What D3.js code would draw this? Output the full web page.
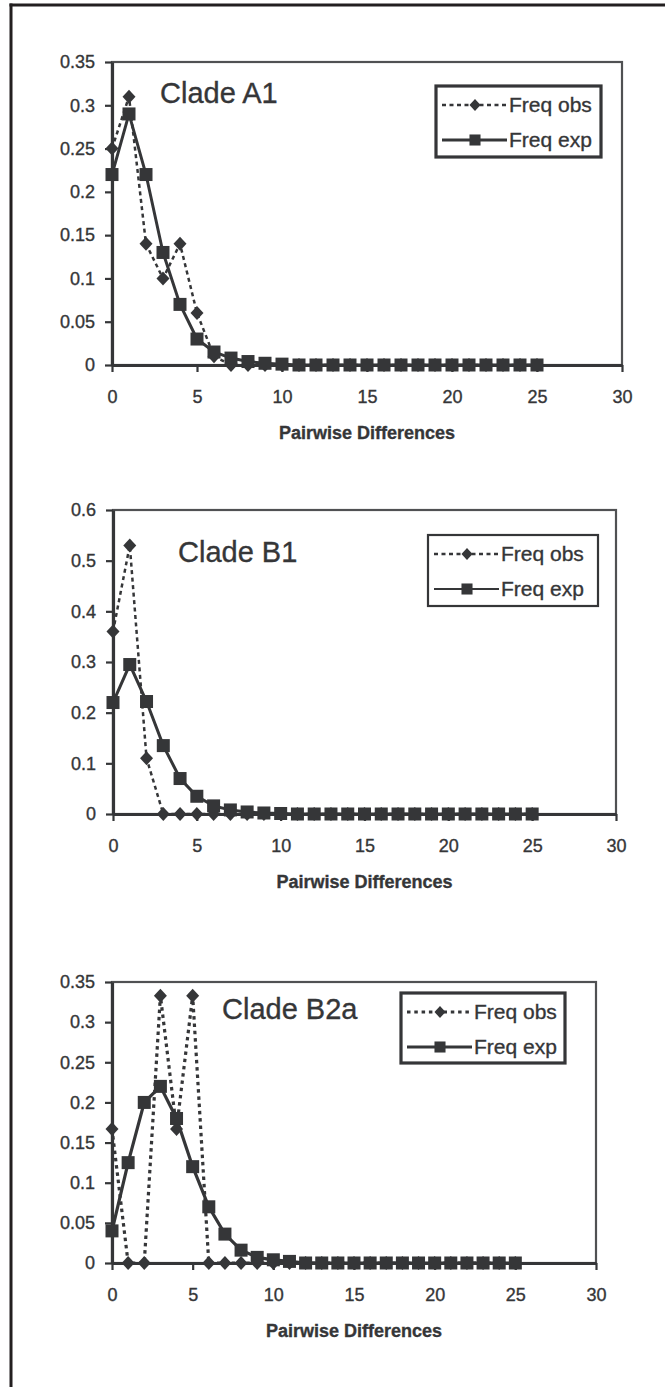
<!DOCTYPE html>
<html><head><meta charset="utf-8">
<script src="https://cdn.jsdelivr.net/npm/d3@7"></script>
<style>
body{margin:0;background:#fff}
svg{display:block}
text{font-family:"Liberation Sans",Arial,sans-serif;fill:#353638;stroke:#353638;stroke-width:0.35px}
</style></head>
<body><svg id="c" width="665" height="1387"></svg>
<script>
// ---- data ----
const pairwiseDiff = [0,1,2,3,4,5,6,7,8,9,10,11,12,13,14,15,16,17,18,19,20,21,22,23,24,25];
const xTicks = [0,5,10,15,20,25,30];

const a1Obs = [0.25,0.31,0.14,0.10,0.14,0.06,0.01,0,0,0,0,0,0,0,0,0,0,0,0,0,0,0,0,0,0,0];
const a1Exp = [0.22,0.29,0.22,0.13,0.07,0.03,0.015,0.008,0.004,0.002,0.001,0,0,0,0,0,0,0,0,0,0,0,0,0,0,0];
const a1YTicks = [0,0.05,0.1,0.15,0.2,0.25,0.3,0.35];

const b1Obs = [0.36,0.53,0.11,0,0,0,0,0,0,0,0,0,0,0,0,0,0,0,0,0,0,0,0,0,0,0];
const b1Exp = [0.22,0.295,0.222,0.135,0.07,0.035,0.016,0.008,0.004,0.002,0.001,0,0,0,0,0,0,0,0,0,0,0,0,0,0,0];
const b1YTicks = [0,0.1,0.2,0.3,0.4,0.5,0.6];

const b2aObs = [0.167,0,0,0.333,0.167,0.333,0,0,0,0,0,0,0,0,0,0,0,0,0,0,0,0,0,0,0,0];
const b2aExp = [0.04,0.125,0.2,0.22,0.18,0.12,0.07,0.036,0.016,0.007,0.004,0.002,0,0,0,0,0,0,0,0,0,0,0,0,0,0];
const b2aYTicks = [0,0.05,0.1,0.15,0.2,0.25,0.3,0.35];

const seriesNames = ["Freq obs","Freq exp"];
const xTitle = "Pairwise Differences";

// ---- drawing ----
const svg = d3.select("#c");
const ink = "#353638";

// outer frame
svg.append("line").attr("x1",9.5).attr("x2",665).attr("y1",5).attr("y2",5).attr("stroke","#231f20").attr("stroke-width",3);
svg.append("line").attr("x1",11).attr("x2",11).attr("y1",3.5).attr("y2",1387).attr("stroke","#231f20").attr("stroke-width",3);

function diamond(g, cx, cy, s){
  const w = 6.5*s, h = 7*s;
  g.append("path").attr("d",`M${cx},${cy-h}L${cx+w},${cy}L${cx},${cy+h}L${cx-w},${cy}Z`).attr("fill",ink);
}
function square(g, cx, cy, s){
  const r = 6.5*s;
  g.append("rect").attr("x",cx-r).attr("y",cy-r).attr("width",2*r).attr("height",2*r).attr("fill",ink);
}

function drawChart(cfg){
  const g = svg.append("g");
  const x = d3.scaleLinear().domain([0,30]).range([cfg.left,cfg.right]);
  const y = d3.scaleLinear().domain([0,cfg.yMax]).range([cfg.bottom,cfg.top]);

  // plot border
  g.append("rect").attr("x",cfg.left).attr("y",cfg.top).attr("width",cfg.right-cfg.left).attr("height",cfg.bottom-cfg.top)
    .attr("fill","none").attr("stroke","#505153").attr("stroke-width",2.2);

  // lines
  const line = d3.line().x((d,i)=>x(pairwiseDiff[i])).y(d=>y(d));
  g.append("path").datum(cfg.exp).attr("d",line).attr("fill","none").attr("stroke",ink).attr("stroke-width",cfg.expW);
  g.append("path").datum(cfg.obs).attr("d",line).attr("fill","none").attr("stroke",ink).attr("stroke-width",cfg.obsW).attr("stroke-dasharray",cfg.dash);

  // y axis
  const ya = d3.axisLeft(y).tickValues(cfg.yTicks).tickSize(7).tickSizeOuter(0).tickPadding(10).tickFormat(d=>String(d));
  const yg = g.append("g").attr("transform",`translate(${cfg.left},0)`).call(ya);
  yg.select(".domain").attr("stroke",ink).attr("stroke-width",3.2);
  yg.selectAll(".tick line").attr("stroke",ink).attr("stroke-width",2.2);
  yg.selectAll(".tick text").attr("font-size",18).attr("fill",ink).style("font-family","'Liberation Sans',Arial,sans-serif");

  // x axis
  const xa = d3.axisBottom(x).tickValues(xTicks).tickSize(7).tickSizeOuter(0).tickPadding(18).tickFormat(d=>String(d));
  const xg = g.append("g").attr("transform",`translate(0,${cfg.bottom})`).call(xa);
  xg.select(".domain").attr("stroke",ink).attr("stroke-width",3.2);
  xg.selectAll(".tick line").attr("stroke",ink).attr("stroke-width",2.2);
  xg.selectAll(".tick text").attr("font-size",18).attr("fill",ink).style("font-family","'Liberation Sans',Arial,sans-serif");

  // markers
  cfg.obs.forEach((v,i)=>diamond(g, x(pairwiseDiff[i]), y(v), 1));
  cfg.exp.forEach((v,i)=>square(g, x(pairwiseDiff[i]), y(v), 1));

  // x title
  g.append("text").attr("x",(cfg.left+cfg.right)/2).attr("y",cfg.bottom+74).attr("text-anchor","middle")
    .attr("font-size",18).attr("font-weight","bold").text(xTitle);

  // clade title
  g.append("text").attr("x",cfg.titleX).attr("y",cfg.titleY).attr("font-size",29).text(cfg.title);

  // legend
  const L = cfg.legend;
  g.append("rect").attr("x",L.x0).attr("y",L.y0).attr("width",L.x1-L.x0).attr("height",L.y1-L.y0)
    .attr("fill","#fff").attr("stroke",ink).attr("stroke-width",L.bw);
  const rows = [{name:seriesNames[0],dy:19,obs:true},{name:seriesNames[1],dy:54,obs:false}];
  rows.forEach(r=>{
    const cy = L.y0 + r.dy;
    g.append("line").attr("x1",L.x0+6).attr("x2",L.x0+71).attr("y1",cy).attr("y2",cy)
      .attr("stroke",ink).attr("stroke-width",r.obs?cfg.obsW:L.expLW).attr("stroke-dasharray",r.obs?cfg.dash:null);
    if(r.obs) diamond(g, L.x0+39, cy, 0.85); else square(g, L.x0+39, cy, 0.85);
    g.append("text").attr("x",L.x0+73).attr("y",cy+7).attr("font-size",21).text(r.name);
  });
}

drawChart({left:112,right:622,top:62,bottom:365,yMax:0.35,yTicks:a1YTicks,obs:a1Obs,exp:a1Exp,
  title:"Clade A1",titleX:160,titleY:103,legend:{x0:436,y0:86,x1:601,y1:157,bw:3.2,expLW:3},obsW:2.5,expW:3,dash:"4,3.5"});
drawChart({left:113,right:616,top:510,bottom:814,yMax:0.6,yTicks:b1YTicks,obs:b1Obs,exp:b1Exp,
  title:"Clade B1",titleX:178,titleY:562,legend:{x0:428,y0:535,x1:598,y1:606,bw:2.2,expLW:2},obsW:2.5,expW:3,dash:"4,3.5"});
drawChart({left:112,right:596,top:982,bottom:1263,yMax:0.35,yTicks:b2aYTicks,obs:b2aObs,exp:b2aExp,
  title:"Clade B2a",titleX:222,titleY:1019,legend:{x0:401,y0:993,x1:565,y1:1063,bw:3.2,expLW:3},obsW:3.2,expW:3.2,dash:"3.5,3.8"});
</script></body></html>
